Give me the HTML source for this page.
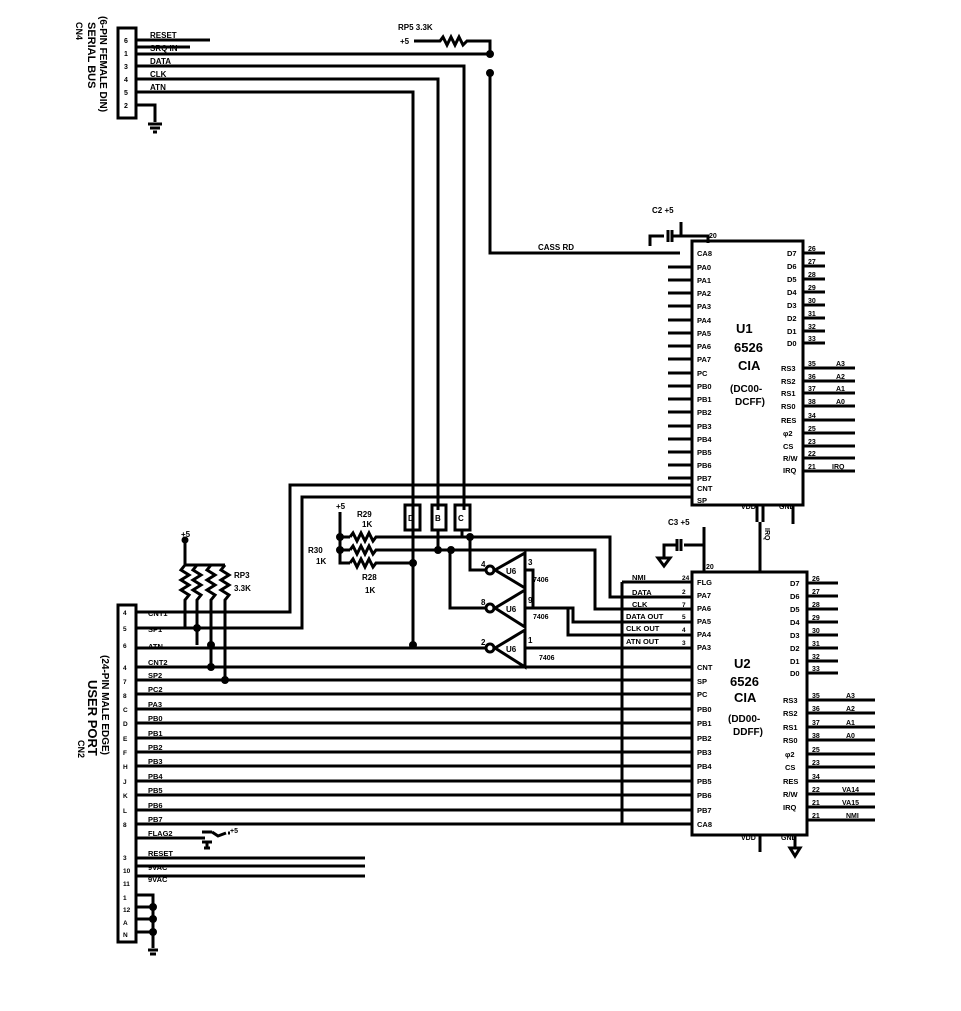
<!DOCTYPE html>
<html><head><meta charset="utf-8"><style>
body{margin:0;background:#fff;width:961px;height:1006px;overflow:hidden}
svg text{font-family:"Liberation Sans",sans-serif;font-weight:bold;fill:#000}
</style></head><body>
<svg width="961" height="1006" viewBox="0 0 961 1006" xmlns="http://www.w3.org/2000/svg" stroke="#000" stroke-width="3" fill="none">
<rect x="118" y="28" width="18" height="90"/>
<g font-size="7" stroke="none" fill="#000">
<text x="124" y="43">6</text><text x="124" y="56">1</text><text x="124" y="69">3</text><text x="124" y="82">4</text><text x="124" y="95">5</text><text x="124" y="108">2</text>
</g>
<text x="0" y="0" font-size="11" stroke="none" transform="translate(88,22) rotate(90)">SERIAL BUS</text>
<text x="0" y="0" font-size="10" stroke="none" transform="translate(100,16) rotate(90)">(6-PIN FEMALE DIN)</text>
<text x="0" y="0" font-size="9" stroke="none" transform="translate(76,22) rotate(90)">CN4</text>
<path d="M136 40H210M136 47H190M136 54H490M136 66H464V510M136 79H438V510M136 92H413V645M136 105H155V122"/>
<path d="M148 124H162M150 128H160M153 132H157"/>
<g font-size="8" stroke="none"><text x="150" y="38">RESET</text><text x="150" y="51">SRQ IN</text><text x="150" y="64">DATA</text><text x="150" y="77">CLK</text><text x="150" y="90">ATN</text></g>
<text x="398" y="30" font-size="8" stroke="none">RP5 3.3K</text>
<text x="400" y="44" font-size="8" stroke="none">+5</text>
<path d="M414 41H440l3-4 4 8 4-8 4 8 4-8 4 8 4-4H490V54"/>
<circle cx="490" cy="54" r="2.5" fill="#000"/>
<circle cx="490" cy="73" r="2.5" fill="#000"/>
<path d="M490 73V253H680"/>
<text x="538" y="250" font-size="8" stroke="none">CASS RD</text>
<text x="652" y="213" font-size="8" stroke="none">C2 +5</text>
<path d="M650 246V236H664M668 230V242M672 230V242M672 236H708V243M681 222V236"/>
<rect x="692" y="241" width="111" height="264"/>
<text x="709" y="238" font-size="7" stroke="none">20</text>
<g font-size="13" stroke="none"><text x="736" y="333">U1</text><text x="734" y="352">6526</text><text x="738" y="370">CIA</text></g>
<g font-size="10" stroke="none"><text x="730" y="392">(DC00-</text><text x="735" y="405">DCFF)</text></g>
<path d="M668 267H692M668 280H692M668 293H692M668 306H692M668 320H692M668 333H692M668 346H692M668 359H692M668 373H692M668 386H692M668 399H692M668 412H692M668 426H692M668 439H692M668 452H692M668 465H692M668 478H692"/>
<g font-size="7.5" stroke="none"><text x="697" y="256">CA8</text><text x="697" y="270">PA0</text><text x="697" y="283">PA1</text><text x="697" y="296">PA2</text><text x="697" y="309">PA3</text><text x="697" y="323">PA4</text><text x="697" y="336">PA5</text><text x="697" y="349">PA6</text><text x="697" y="362">PA7</text><text x="697" y="376">PC</text><text x="697" y="389">PB0</text><text x="697" y="402">PB1</text><text x="697" y="415">PB2</text><text x="697" y="429">PB3</text><text x="697" y="442">PB4</text><text x="697" y="455">PB5</text><text x="697" y="468">PB6</text><text x="697" y="481">PB7</text><text x="697" y="491">CNT</text><text x="697" y="503">SP</text>
<text x="787" y="256">D7</text><text x="787" y="269">D6</text><text x="787" y="282">D5</text><text x="787" y="295">D4</text><text x="787" y="308">D3</text><text x="787" y="321">D2</text><text x="787" y="334">D1</text><text x="787" y="346">D0</text>
<text x="781" y="371">RS3</text><text x="781" y="384">RS2</text><text x="781" y="396">RS1</text><text x="781" y="409">RS0</text><text x="781" y="423">RES</text><text x="783" y="436">φ2</text><text x="783" y="449">CS</text><text x="783" y="461">R/W</text><text x="783" y="473">IRQ</text></g>
<path d="M803 253H825M803 266H825M803 279H825M803 292H825M803 305H825M803 318H825M803 331H825M803 343H825M803 368H855M803 381H855M803 393H855M803 406H855M803 420H855M803 433H855M803 446H855M803 458H855M803 471H855"/>
<g font-size="7" stroke="none"><text x="808" y="251">26</text><text x="808" y="264">27</text><text x="808" y="277">28</text><text x="808" y="290">29</text><text x="808" y="303">30</text><text x="808" y="316">31</text><text x="808" y="329">32</text><text x="808" y="341">33</text><text x="808" y="366">35</text><text x="808" y="379">36</text><text x="808" y="391">37</text><text x="808" y="404">38</text><text x="808" y="418">34</text><text x="808" y="431">25</text><text x="808" y="444">23</text><text x="808" y="456">22</text><text x="808" y="469">21</text>
<text x="836" y="366">A3</text><text x="836" y="379">A2</text><text x="836" y="391">A1</text><text x="836" y="404">A0</text><text x="832" y="469">IRQ</text></g>
<text x="741" y="509" font-size="7" stroke="none">VDD</text><text x="779" y="509" font-size="7" stroke="none">GND</text>
<path d="M757 505V522M763 505V522M793 505V516"/>
<text x="668" y="525" font-size="8" stroke="none">C3 +5</text>
<path d="M704 527V572M704 545H684M681 539V551M677 539V551M677 545H664V558M658 558H670L664 566Z"/>
<path d="M760 522V572"/>
<text x="0" y="0" font-size="7" stroke="none" transform="translate(765,528) rotate(90)">IRQ</text>
<path d="M793 516V524"/>
<rect x="692" y="572" width="115" height="263"/>
<text x="706" y="569" font-size="7" stroke="none">20</text>
<g font-size="13" stroke="none"><text x="734" y="668">U2</text><text x="730" y="686">6526</text><text x="734" y="702">CIA</text></g>
<g font-size="10" stroke="none"><text x="728" y="722">(DD00-</text><text x="733" y="735">DDFF)</text></g>
<g font-size="7.5" stroke="none"><text x="697" y="585">FLG</text><text x="697" y="598">PA7</text><text x="697" y="611">PA6</text><text x="697" y="624">PA5</text><text x="697" y="637">PA4</text><text x="697" y="650">PA3</text><text x="697" y="670">CNT</text><text x="697" y="684">SP</text><text x="697" y="697">PC</text><text x="697" y="712">PB0</text><text x="697" y="726">PB1</text><text x="697" y="741">PB2</text><text x="697" y="755">PB3</text><text x="697" y="769">PB4</text><text x="697" y="784">PB5</text><text x="697" y="798">PB6</text><text x="697" y="813">PB7</text><text x="697" y="827">CA8</text>
<text x="790" y="586">D7</text><text x="790" y="599">D6</text><text x="790" y="612">D5</text><text x="790" y="625">D4</text><text x="790" y="638">D3</text><text x="790" y="651">D2</text><text x="790" y="664">D1</text><text x="790" y="676">D0</text>
<text x="783" y="703">RS3</text><text x="783" y="716">RS2</text><text x="783" y="730">RS1</text><text x="783" y="743">RS0</text><text x="785" y="757">φ2</text><text x="785" y="770">CS</text><text x="783" y="784">RES</text><text x="783" y="797">R/W</text><text x="783" y="810">IRQ</text></g>
<path d="M807 583H838M807 596H838M807 609H838M807 622H838M807 635H838M807 648H838M807 661H838M807 673H838M807 700H875M807 713H875M807 727H875M807 740H875M807 754H875M807 767H875M807 781H875M807 794H875M807 807H875M807 820H875"/>
<g font-size="7" stroke="none"><text x="812" y="581">26</text><text x="812" y="594">27</text><text x="812" y="607">28</text><text x="812" y="620">29</text><text x="812" y="633">30</text><text x="812" y="646">31</text><text x="812" y="659">32</text><text x="812" y="671">33</text><text x="812" y="698">35</text><text x="812" y="711">36</text><text x="812" y="725">37</text><text x="812" y="738">38</text><text x="812" y="752">25</text><text x="812" y="765">23</text><text x="812" y="779">34</text><text x="812" y="792">22</text><text x="812" y="805">21</text><text x="812" y="818">21</text>
<text x="846" y="698">A3</text><text x="846" y="711">A2</text><text x="846" y="725">A1</text><text x="846" y="738">A0</text><text x="842" y="792">VA14</text><text x="842" y="805">VA15</text><text x="846" y="818">NMI</text></g>
<text x="741" y="840" font-size="7" stroke="none">VDD</text><text x="781" y="840" font-size="7" stroke="none">GND</text>
<path d="M760 835V852M795 835V848M790 848H800L795 856Z"/>
<path d="M136 612H290V485H692M136 628H302V497H692"/>
<path d="M405 505H420V530H405ZM432 505H446V530H432ZM455 505H470V530H455Z"/>
<g font-size="8" stroke="none"><text x="408" y="521">D</text><text x="435" y="521">B</text><text x="458" y="521">C</text></g>
<text x="336" y="509" font-size="8" stroke="none">+5</text>
<path d="M340 512V563H350M340 537H350M340 550H350"/>
<circle cx="340" cy="550" r="2.5" fill="#000"/><circle cx="340" cy="537" r="2.5" fill="#000"/>
<path d="M350 537l3-4 4 8 4-8 4 8 4-8 4 8 3-4H470"/>
<path d="M350 550l3-4 4 8 4-8 4 8 4-8 4 8 3-4H595V609H692"/>
<path d="M350 563l3-4 4 8 4-8 4 8 4-8 4 8 3-4H413"/>
<g font-size="8" stroke="none"><text x="357" y="517">R29</text><text x="362" y="527">1K</text><text x="308" y="553">R30</text><text x="316" y="564">1K</text><text x="362" y="580">R28</text><text x="365" y="593">1K</text></g>
<path d="M470 537H610V597H692M438 530V550H470M462 530V537"/>
<circle cx="413" cy="563" r="2.5" fill="#000"/><circle cx="438" cy="550" r="2.5" fill="#000"/><circle cx="451" cy="550" r="2.5" fill="#000"/><circle cx="470" cy="537" r="2.5" fill="#000"/><circle cx="413" cy="645" r="2.5" fill="#000"/>
<path d="M525 553V588L495 570ZM525 590V627L495 608ZM525 630V667L495 648Z"/>
<circle cx="490" cy="570" r="4"/><circle cx="490" cy="608" r="4"/><circle cx="490" cy="648" r="4"/>
<g font-size="8" stroke="none"><text x="506" y="574">U6</text><text x="506" y="612">U6</text><text x="506" y="652">U6</text><text x="481" y="567">4</text><text x="481" y="605">8</text><text x="481" y="645">2</text><text x="528" y="565">3</text><text x="528" y="603">9</text><text x="528" y="643">1</text>
<text x="533" y="582" font-size="7">7406</text><text x="533" y="619" font-size="7">7406</text><text x="539" y="660" font-size="7">7406</text></g>
<path d="M486 570H470V537M486 608H450V550M486 648H136"/>
<path d="M525 570H533V608H573V622H692M525 608H568V635H692M525 648H692"/>
<path d="M622 582H692M622 582V824"/>
<g font-size="7.5" stroke="none"><text x="632" y="580">NMI</text><text x="632" y="595">DATA</text><text x="632" y="607">CLK</text><text x="626" y="619">DATA OUT</text><text x="626" y="631">CLK OUT</text><text x="626" y="644">ATN OUT</text></g>
<g font-size="6.5" stroke="none"><text x="682" y="580">24</text><text x="682" y="594">2</text><text x="682" y="607">7</text><text x="682" y="619">5</text><text x="682" y="632">4</text><text x="682" y="645">3</text></g>
<text x="181" y="537" font-size="8" stroke="none">+5</text>
<path d="M185 540V565H225M185 565l-4 5 8 5-8 5 8 5-8 5 8 5-4 5V628M197 565l-4 5 8 5-8 5 8 5-8 5 8 5-4 5V645M211 565l-4 5 8 5-8 5 8 5-8 5 8 5-4 5V667M225 565l-4 5 8 5-8 5 8 5-8 5 8 5-4 5V680"/>
<g font-size="8" stroke="none"><text x="234" y="578">RP3</text><text x="234" y="591">3.3K</text></g>
<circle cx="185" cy="540" r="2" fill="#000"/><circle cx="197" cy="628" r="2.5" fill="#000"/><circle cx="211" cy="645" r="2.5" fill="#000"/><circle cx="211" cy="667" r="2.5" fill="#000"/><circle cx="225" cy="680" r="2.5" fill="#000"/>
<rect x="118" y="605" width="18" height="337"/>
<text x="0" y="0" font-size="13" stroke="none" transform="translate(88,680) rotate(90)">USER PORT</text>
<text x="0" y="0" font-size="10" stroke="none" transform="translate(102,655) rotate(90)">(24-PIN MALE EDGE)</text>
<text x="0" y="0" font-size="9" stroke="none" transform="translate(78,740) rotate(90)">CN2</text>
<path d="M136 667H692M136 680H692M136 694H692M136 709H692M136 723H692M136 738H692M136 752H692M136 766H692M136 781H692M136 795H692M136 810H692M136 824H692"/>
<g font-size="7.5" stroke="none"><text x="148" y="616">CNT1</text><text x="148" y="632">SP1</text><text x="148" y="649">ATN</text><text x="148" y="665">CNT2</text><text x="148" y="678">SP2</text><text x="148" y="692">PC2</text><text x="148" y="707">PA3</text><text x="148" y="721">PB0</text><text x="148" y="736">PB1</text><text x="148" y="750">PB2</text><text x="148" y="764">PB3</text><text x="148" y="779">PB4</text><text x="148" y="793">PB5</text><text x="148" y="808">PB6</text><text x="148" y="822">PB7</text><text x="148" y="836">FLAG2</text><text x="148" y="856">RESET</text><text x="148" y="870">9VAC</text><text x="148" y="882">9VAC</text></g>
<g font-size="6.5" stroke="none"><text x="123" y="615">4</text><text x="123" y="631">5</text><text x="123" y="648">6</text><text x="123" y="670">4</text><text x="123" y="684">7</text><text x="123" y="698">8</text><text x="123" y="712">C</text><text x="123" y="726">D</text><text x="123" y="741">E</text><text x="123" y="755">F</text><text x="123" y="769">H</text><text x="123" y="784">J</text><text x="123" y="798">K</text><text x="123" y="813">L</text><text x="123" y="827">8</text><text x="123" y="860">3</text><text x="123" y="873">10</text><text x="123" y="886">11</text><text x="123" y="900">1</text><text x="123" y="912">12</text><text x="123" y="925">A</text><text x="123" y="937">N</text></g>
<path d="M136 838H205M202 832H212M202 842H212M207 842V848M204 848H210M212 832l6 4 8-3M230 833H228"/>
<text x="230" y="833" font-size="7" stroke="none">+5</text>
<path d="M136 858H365M136 866H365M136 876H365"/>
<path d="M136 895H153V948M136 907H153M136 919H153M136 932H153M148 950H158M150 954H156"/>
<circle cx="153" cy="907" r="2.5" fill="#000"/><circle cx="153" cy="919" r="2.5" fill="#000"/><circle cx="153" cy="932" r="2.5" fill="#000"/>
</svg>
</body></html>
